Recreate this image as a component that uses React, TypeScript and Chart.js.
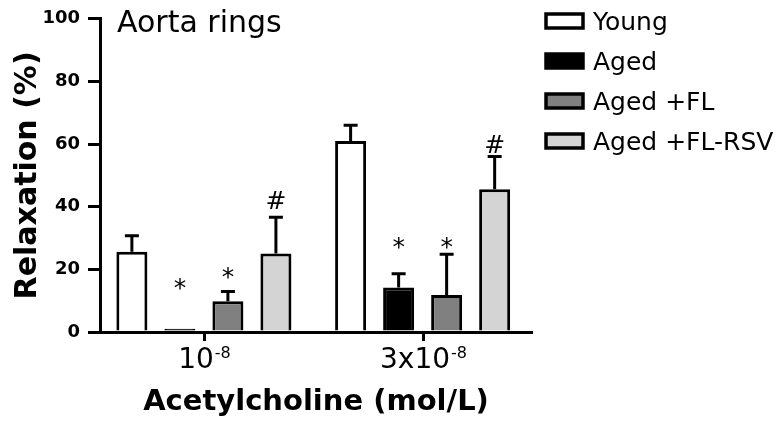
import React, { useEffect, useRef } from 'react';
import { Chart, registerables } from 'chart.js';

Chart.register(...registerables);

// ---------- data ----------
const categoryBase = ['10', '3x10'];
const categoryExp = ['-8', '-8'];
const seriesLabels = ['Young', 'Aged', 'Aged +FL', 'Aged +FL-RSV'];

const young = [25.6, 61.0];
const aged = [1.0, 14.2];
const agedFL = [9.8, 11.8];
const agedFLRSV = [25.1, 45.6];

const youngErr = [5.1, 5.0];
const agedErr = [0, 4.4];
const agedFLErr = [3.1, 13.0];
const agedFLRSVErr = [11.5, 10.4];

const youngMarks = ['', ''];
const agedMarks = ['*', '*'];
const agedFLMarks = ['*', '*'];
const agedFLRSVMarks = ['#', '#'];

const youngMarkLevel = [0, 0];
const agedMarkLevel = [15.3, 28.3];
const agedFLMarkLevel = [18.9, 28.3];
const agedFLRSVMarkLevel = [42.0, 60.0];

const yTickValues = [0, 20, 40, 60, 80, 100];
const panelTitle = 'Aorta rings';
const xTitle = 'Acetylcholine (mol/L)';
const yTitle = 'Relaxation (%)';

const seriesValues = [young, aged, agedFL, agedFLRSV];
const seriesErrors = [youngErr, agedErr, agedFLErr, agedFLRSVErr];
const seriesMarks = [youngMarks, agedMarks, agedFLMarks, agedFLRSVMarks];
const seriesMarkLevels = [youngMarkLevel, agedMarkLevel, agedFLMarkLevel, agedFLRSVMarkLevel];
const seriesColors = ['#ffffff', '#000000', '#808080', '#d4d4d4'];

const FONT = '"DejaVu Sans", sans-serif';

// ---------- plugins ----------
const errorBarPlugin = {
  id: 'errorBars',
  afterDatasetsDraw(chart: any) {
    const ctx = chart.ctx;
    const yScale = chart.scales.y;
    chart.data.datasets.forEach((ds: any, di: number) => {
      const meta = chart.getDatasetMeta(di);
      meta.data.forEach((bar: any, i: number) => {
        const err = ds.errors[i];
        if (!err) return;
        const v = ds.data[i].y;
        const yTop = yScale.getPixelForValue(v + err);
        ctx.save();
        ctx.strokeStyle = '#000';
        ctx.lineWidth = 3;
        ctx.beginPath();
        ctx.moveTo(bar.x, bar.y);
        ctx.lineTo(bar.x, yTop);
        ctx.moveTo(bar.x - 7, yTop);
        ctx.lineTo(bar.x + 7, yTop);
        ctx.stroke();
        ctx.restore();
      });
    });
  },
};

const markPlugin = {
  id: 'marks',
  afterDatasetsDraw(chart: any) {
    const ctx = chart.ctx;
    const yScale = chart.scales.y;
    chart.data.datasets.forEach((ds: any, di: number) => {
      const meta = chart.getDatasetMeta(di);
      meta.data.forEach((bar: any, i: number) => {
        const t = ds.marks[i];
        if (!t) return;
        const yc = yScale.getPixelForValue(ds.markLevels[i]);
        ctx.save();
        ctx.fillStyle = '#000';
        ctx.font = `25px ${FONT}`;
        ctx.textAlign = 'center';
        ctx.textBaseline = 'alphabetic';
        const m = ctx.measureText(t);
        const asc = m.actualBoundingBoxAscent;
        const desc = m.actualBoundingBoxDescent;
        ctx.fillText(t, bar.x, yc + (asc - desc) / 2);
        ctx.restore();
      });
    });
  },
};

const xLabelPlugin = {
  id: 'xLabels',
  afterDraw(chart: any) {
    const ctx = chart.ctx;
    const xScale = chart.scales.x;
    const axisY = xScale.top;
    const baseline = axisY + 36;
    categoryBase.forEach((base, i) => {
      const exp = categoryExp[i];
      const x = Math.round(xScale.getPixelForValue(i)) + 0.5;
      ctx.save();
      ctx.strokeStyle = '#000000';
      ctx.lineWidth = 3;
      ctx.lineCap = 'butt';
      ctx.beginPath();
      ctx.moveTo(x, axisY);
      ctx.lineTo(x, axisY + 9);
      ctx.stroke();
      ctx.restore();

      ctx.save();
      ctx.fillStyle = '#000';
      ctx.textBaseline = 'alphabetic';
      ctx.textAlign = 'left';
      ctx.font = `28px ${FONT}`;
      const wb = ctx.measureText(base).width;
      ctx.font = `16px ${FONT}`;
      const we = ctx.measureText(exp).width;
      const start = x - (wb + we + 1) / 2;
      ctx.font = `28px ${FONT}`;
      ctx.fillText(base, start, baseline);
      ctx.font = `16px ${FONT}`;
      ctx.fillText(exp, start + wb + 1, baseline - 10);
      ctx.restore();
    });
  },
};

const legendPlugin = {
  id: 'customLegend',
  afterDraw(chart: any) {
    const ctx = chart.ctx;
    chart.data.datasets.forEach((ds: any, i: number) => {
      const cy = 21 + i * 40;
      ctx.save();
      ctx.fillStyle = ds.backgroundColor;
      ctx.fillRect(546, cy - 7, 37, 14);
      ctx.strokeStyle = '#000';
      ctx.lineWidth = 3.5;
      ctx.strokeRect(546, cy - 7, 37, 14);
      ctx.fillStyle = '#000';
      ctx.font = `25px ${FONT}`;
      ctx.textAlign = 'left';
      ctx.textBaseline = 'alphabetic';
      ctx.fillText(ds.label, 593, cy + 9);
      ctx.restore();
    });
  },
};

const panelTitlePlugin = {
  id: 'panelTitle',
  afterDraw(chart: any) {
    const ctx = chart.ctx;
    ctx.save();
    ctx.fillStyle = '#000';
    ctx.font = `30px ${FONT}`;
    ctx.textAlign = 'left';
    ctx.textBaseline = 'alphabetic';
    ctx.fillText(panelTitle, 117, 32);
    ctx.restore();
  },
};

export default function App() {
  const ref = useRef<HTMLCanvasElement>(null);

  useEffect(() => {
    if (!ref.current) return;
    const datasets = seriesLabels.map((label, s) => ({
      label,
      data: seriesValues[s].map((v, i) => ({ x: i, y: v })),
      errors: seriesErrors[s],
      marks: seriesMarks[s],
      markLevels: seriesMarkLevels[s],
      backgroundColor: seriesColors[s],
      borderColor: '#000000',
      borderWidth: 3,
      categoryPercentage: 0.878,
      barPercentage: 0.646,
    }));

    const chart = new Chart(ref.current, {
      type: 'bar',
      data: { datasets } as any,
      options: {
        responsive: false,
        animation: false,
        events: [],
        layout: { padding: { top: 12, right: 248, left: 0, bottom: 0 } },
        plugins: {
          legend: { display: false },
          tooltip: { enabled: false },
          title: { display: false },
        },
        scales: {
          x: {
            type: 'linear',
            min: -0.475,
            max: 1.5,
            offset: false,
            afterBuildTicks: (scale: any) => {
              scale.ticks = categoryBase.map((_, i) => ({ value: i }));
            },
            afterFit: (scale: any) => {
              scale.height = 91;
            },
            grid: { display: false },
            border: { display: true, color: '#000', width: 3 },
            ticks: { display: false },
            title: {
              display: true,
              text: xTitle,
              color: '#000',
              font: { family: FONT, size: 29, weight: 'bold', lineHeight: 1.2 },
              padding: { top: 0, bottom: 3 },
            },
          },
          y: {
            min: 0,
            max: 100,
            afterBuildTicks: (scale: any) => {
              scale.ticks = yTickValues.map((v) => ({ value: v }));
            },
            afterFit: (scale: any) => {
              scale.width = 100;
            },
            grid: {
              display: true,
              drawOnChartArea: false,
              drawTicks: true,
              tickLength: 12,
              tickWidth: 3,
              tickColor: '#000',
              lineWidth: 3,
              color: '#000',
            },
            border: { display: true, color: '#000', width: 3 },
            ticks: {
              color: '#000',
              padding: 8,
              font: { family: FONT, size: 18, weight: 'bold' },
            },
            title: {
              display: true,
              text: yTitle,
              color: '#000',
              font: { family: FONT, size: 30, weight: 'bold', lineHeight: 1.2 },
              padding: { top: 10, bottom: 0 },
            },
          },
        },
      } as any,
      plugins: [errorBarPlugin, markPlugin, xLabelPlugin, legendPlugin, panelTitlePlugin],
    });
    return () => chart.destroy();
  }, []);

  return (
    <canvas
      ref={ref}
      width={780}
      height={423}
      style={{ position: 'absolute', left: 0, top: 0, display: 'block' }}
    />
  );
}
